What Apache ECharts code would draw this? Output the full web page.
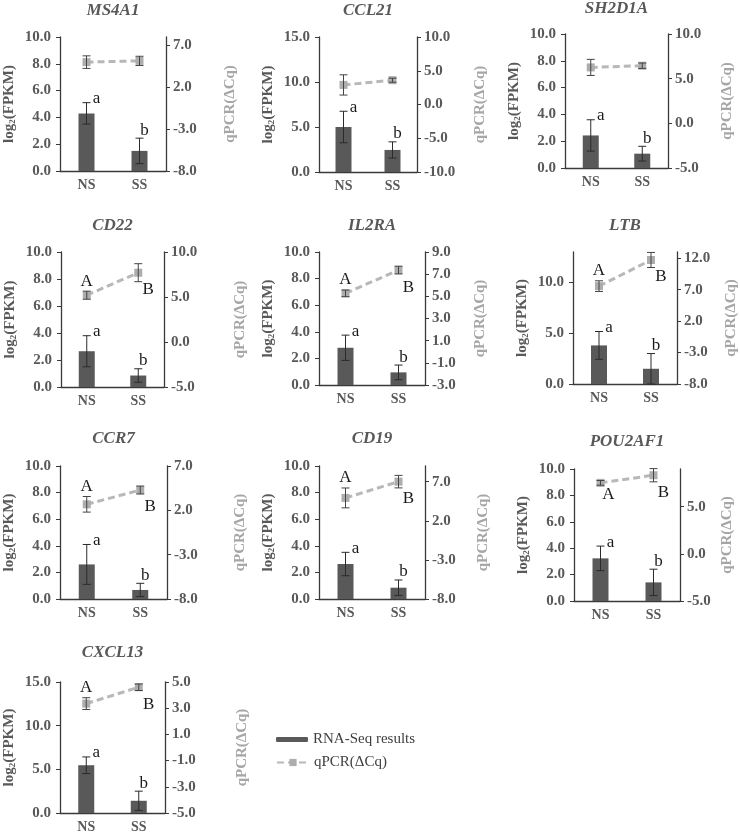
<!DOCTYPE html>
<html><head><meta charset="utf-8">
<script src="https://cdn.jsdelivr.net/npm/echarts@6/dist/echarts.min.js"></script>
<style>html,body{margin:0;padding:0;background:#fff}#c{width:740px;height:840px}</style>
</head><body><div id="c"></div>
<script>
// ---------- data ----------
const genes = ['MS4A1','CCL21','SH2D1A','CD22','IL2RA','LTB','CCR7','CD19','POU2AF1','CXCL13'];
const groups = ['NS','SS'];
const rnaMean = [[4.3,1.5],[5.0,2.45],[2.43,1.07],[2.65,0.85],[2.8,0.95],[3.8,1.5],[2.6,0.68],[2.63,0.85],[3.23,1.41],[5.47,1.4]];
const rnaErr  = [[0.8,0.95],[1.75,0.9],[1.17,0.55],[1.15,0.5],[0.95,0.55],[1.37,1.5],[1.5,0.5],[0.88,0.58],[0.93,1.0],[0.95,1.1]];
const qMean   = [[5.0,5.15],[2.9,3.6],[6.26,6.45],[5.2,7.7],[5.27,7.37],[7.57,11.73],[2.68,4.29],[4.92,7.0],[7.53,8.34],[3.35,4.6]];
const qErr    = [[0.75,0.55],[1.5,0.3],[0.9,0.3],[0.45,1.0],[0.3,0.35],[0.85,1.2],[0.88,0.45],[1.27,0.8],[0.25,0.7],[0.45,0.25]];
const rnaLetters = [['a','b'],['a','b'],['a','b'],['a','b'],['a','b'],['a','b'],['a','b'],['a','b'],['a','b'],['a','b']];
const qLetters = [null,null,null,['A','B'],['A','B'],['A','B'],['A','B'],['A','B'],['A','B'],['A','B']];
const leftMax = [10,15,10,10,10,13,10,10,10,15];
const leftTicks = [[0,2,4,6,8,10],[0,5,10,15],[0,2,4,6,8,10],[0,2,4,6,8,10],[0,2,4,6,8,10],[0,5,10],[0,2,4,6,8,10],[0,2,4,6,8,10],[0,2,4,6,8,10],[0,5,10,15]];
const rightMin = [-8,-10,-5,-5,-3,-8,-8,-8,-5,-5];
const rightMax = [8,10,10,10,9,13,7,9,9,5];
const rightTicks = [[-8,-3,2,7],[-10,-5,0,5,10],[-5,0,5,10],[-5,0,5,10],[-3,-1,1,3,5,7,9],[-8,-3,2,7,12],[-8,-3,2,7],[-8,-3,2,7],[-5,0,5],[-5,-3,-1,1,3,5]];
const seriesNames = ['RNA-Seq results','qPCR(ΔCq)'];

// ---------- layout / style ----------
const boxes = [[60,166,37,171],[319,417,37,172],[565,668,34,168],[61,164,252,387],[319,425,252,385],[573,677,252,384],[60,167,466,599],[319,425,466,599],[574,680,469,601],[60,165,682,813]];
const titleY = [11,11,9,226,226,226,439,439,442,653];
const rightNameX = [230,480,727,240,480,731,240,483,727,242];
const upperBelow = ['POU2AF1'];
const FONT = "'Liberation Serif','Times New Roman',serif";
const AX = '#3a3a3a', LBL = '#595959';

const chart = echarts.init(document.getElementById('c'), null, {renderer:'canvas'});
const grid=[], xAxis=[], yAxis=[], series=[], title=[];

function txt(x,y,t){
  return {type:'text', x:x, y:y, style:{text:t, fill:'#1a1a1a', font:'17px '+FONT, textAlign:'center', textVerticalAlign:'middle', align:'center', verticalAlign:'middle'}};
}
function errGroup(api, i, m, e, col, cap){
  const t = api.coord([i, m+e]), b = api.coord([i, m-e]);
  return [
    {type:'line', shape:{x1:t[0],y1:t[1],x2:b[0],y2:b[1]}, style:{stroke:col,lineWidth:1}},
    {type:'line', shape:{x1:t[0]-cap,y1:t[1],x2:t[0]+cap,y2:t[1]}, style:{stroke:col,lineWidth:1}},
    {type:'line', shape:{x1:b[0]-cap,y1:b[1],x2:b[0]+cap,y2:b[1]}, style:{stroke:col,lineWidth:1}}
  ];
}

genes.forEach((g,p)=>{
  const [l,r,t,b] = boxes[p];
  grid.push({left:l, top:t, width:r-l, height:b-t, containLabel:false, outerBoundsMode:'none'});
  title.push({text:g, left:(l+r)/2, top:titleY[p]-9, textAlign:'center', padding:0,
    textStyle:{fontFamily:FONT, fontStyle:'italic', fontWeight:'bold', fontSize:17, color:LBL}});
  xAxis.push({gridIndex:p, type:'category', data:groups, boundaryGap:true,
    axisLine:{lineStyle:{color:AX,width:1.3}}, axisTick:{length:5, lineStyle:{color:AX}},
    axisLabel:{color:LBL, fontFamily:FONT, fontWeight:'bold', fontSize:14, margin:7}});
  yAxis.push({gridIndex:p, type:'value', position:'left', min:0, max:leftMax[p],
    splitLine:{show:false},
    axisLine:{show:true, lineStyle:{color:AX,width:1.3}},
    axisTick:{show:true, length:4, customValues:leftTicks[p], lineStyle:{color:AX}},
    axisLabel:{customValues:leftTicks[p], formatter:v=>Number(v).toFixed(1), color:LBL, fontFamily:FONT, fontWeight:'bold', fontSize:15, margin:9},
    name:'log{s|2}(FPKM)', nameLocation:'middle', nameGap:43, nameRotate:90,
    nameTextStyle:{fontFamily:FONT, fontWeight:'bold', fontSize:15, color:LBL,
      rich:{s:{fontFamily:FONT, fontWeight:'bold', fontSize:9, color:LBL, verticalAlign:'bottom', padding:[5,0,0,0]}}}});
  yAxis.push({gridIndex:p, type:'value', position:'right', min:rightMin[p], max:rightMax[p],
    splitLine:{show:false},
    axisLine:{show:true, lineStyle:{color:AX,width:1.3}},
    axisTick:{show:true, length:4, customValues:rightTicks[p], lineStyle:{color:AX}},
    axisLabel:{customValues:rightTicks[p], formatter:v=>Number(v).toFixed(1), color:LBL, fontFamily:FONT, fontWeight:'bold', fontSize:15, margin:7},
    name:'qPCR(ΔCq)', nameLocation:'middle', nameGap:rightNameX[p]-r-7.5, nameRotate:90,
    nameTextStyle:{fontFamily:FONT, fontWeight:'bold', fontSize:15, color:'#a6a6a6'}});

  series.push({name:seriesNames[0], type:'bar', xAxisIndex:p, yAxisIndex:2*p, data:rnaMean[p], barWidth:16,
    itemStyle:{color:'#595959'}, z:2});
  series.push({type:'custom', xAxisIndex:p, yAxisIndex:2*p, z:3, clip:false,
    data:rnaMean[p].map((m,i)=>[i,m,rnaErr[p][i]]),
    renderItem:(params,api)=>{
      const i=api.value(0), m=api.value(1), e=api.value(2);
      const ch = errGroup(api,i,m,e,'#2b2b2b',4);
      const top = api.coord([i,m+e]);
      const off = i===0 ? [10,-4] : [5,-8];
      ch.push(txt(top[0]+off[0], top[1]+off[1], rnaLetters[p][i]));
      return {type:'group', children:ch};
    }});
  series.push({name:seriesNames[1], type:'line', xAxisIndex:p, yAxisIndex:2*p+1, data:qMean[p],
    symbol:'rect', symbolSize:8, itemStyle:{color:'#adadad'},
    lineStyle:{color:'#b8b8b8', width:3, type:[7,4]}, z:4});
  series.push({type:'custom', xAxisIndex:p, yAxisIndex:2*p+1, z:5, clip:false,
    data:qMean[p].map((m,i)=>[i,m,qErr[p][i]]),
    renderItem:(params,api)=>{
      const i=api.value(0), m=api.value(1), e=api.value(2);
      const ch = errGroup(api,i,m,e,'#444',4);
      if(qLetters[p]){
        const pt = api.coord([i,m]), top = api.coord([i,m+e]);
        if(i===0){
          if(upperBelow.indexOf(g)>=0) ch.push(txt(pt[0]+8, pt[1]+12, qLetters[p][i]));
          else ch.push(txt(top[0], top[1]-10, qLetters[p][i]));
        } else ch.push(txt(pt[0]+10, pt[1]+17, qLetters[p][i]));
      }
      return {type:'group', children:ch};
    }});
});

const legTxt = {fontFamily:FONT, fontSize:15, color:'#404040'};
chart.setOption({
  animation:false,
  title:title, grid:grid, xAxis:xAxis, yAxis:yAxis, series:series,
  legend:[
    {data:[seriesNames[0]], left:276, top:732, orient:'vertical', padding:0, itemWidth:32, itemHeight:5, textStyle:legTxt, selectedMode:false},
    {data:[seriesNames[1]], left:276, top:755, orient:'vertical', padding:0, itemWidth:32, itemHeight:9, textStyle:legTxt, selectedMode:false}
  ]
});
</script></body></html>
